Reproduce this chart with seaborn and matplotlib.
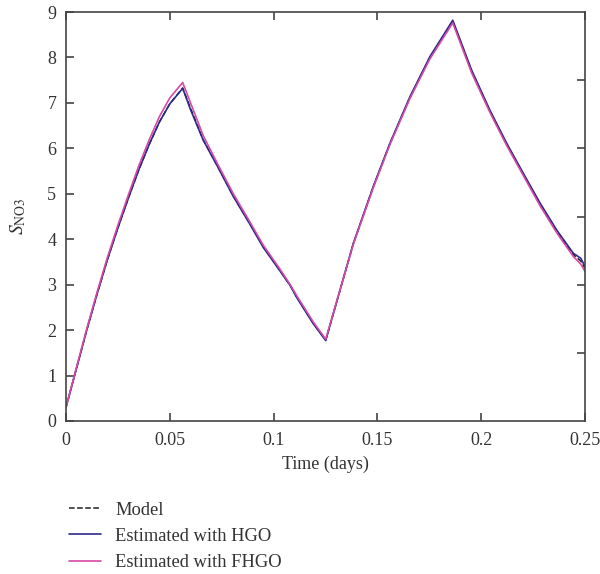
import matplotlib
matplotlib.use("Agg")
import matplotlib.pyplot as plt
import seaborn as sns
import pandas as pd

# values
t = [0.0, 0.0050, 0.0100, 0.0150, 0.0200, 0.0250, 0.0300, 0.0350, 0.0400,
     0.0450, 0.0500, 0.0562,
     0.0600, 0.0661, 0.0730, 0.0806, 0.0886, 0.0950, 0.1031, 0.1080, 0.1111,
     0.1191, 0.1251, 0.1384, 0.1480, 0.1560, 0.1657, 0.1753, 0.1863, 0.1954,
     0.2042, 0.2123, 0.2203, 0.2283, 0.2364, 0.2444, 0.2480, 0.2500]
s_model = [0.30, 1.15, 2.00, 2.80, 3.56, 4.25, 4.90, 5.52, 6.08,
           6.58, 6.98, 7.33,
           6.88, 6.19, 5.61, 4.95, 4.34, 3.84, 3.31, 2.98, 2.73,
           2.15, 1.78, 3.90, 5.15, 6.10, 7.12, 8.00, 8.80, 7.70,
           6.82, 6.09, 5.43, 4.78, 4.18, 3.66, 3.52, 3.36]
s_hgo = [0.30, 1.15, 2.00, 2.80, 3.56, 4.25, 4.90, 5.52, 6.08,
         6.58, 6.98, 7.32,
         6.85, 6.18, 5.60, 4.94, 4.33, 3.82, 3.30, 2.98, 2.72,
         2.14, 1.77, 3.91, 5.16, 6.11, 7.14, 8.02, 8.82, 7.72,
         6.84, 6.11, 5.45, 4.80, 4.20, 3.69, 3.58, 3.40]
s_fhgo = [0.30, 1.17, 2.03, 2.84, 3.61, 4.31, 4.97, 5.61, 6.18,
          6.70, 7.11, 7.45,
          7.00, 6.28, 5.66, 5.00, 4.38, 3.87, 3.34, 3.00, 2.76,
          2.18, 1.80, 3.89, 5.13, 6.08, 7.10, 7.97, 8.76, 7.66,
          6.79, 6.06, 5.40, 4.74, 4.14, 3.62, 3.45, 3.29]

x_ticks = [0, 0.05, 0.1, 0.15, 0.2, 0.25]
x_labels = ["0", "0.05", "0.1", "0.15", "0.2", "0.25"]
y_ticks = list(range(10))
right_ticks = [1.5, 3, 4.5, 6, 7.5]

sns.set_style("white")
plt.rcParams['font.family'] = ['Liberation Serif', 'DejaVu Serif']
plt.rcParams['mathtext.fontset'] = 'stix'

fig = plt.figure(figsize=(6, 5.74), dpi=100)
ax = fig.add_axes([0.11, 0.2666, 0.865, 0.7124])

df = pd.DataFrame({'t': t, 'Model': s_model, 'HGO': s_hgo, 'FHGO': s_fhgo})

sns.lineplot(data=df, x='t', y='Model', ax=ax, color='#222222', lw=1.1,
             linestyle='--', label='Model')
sns.lineplot(data=df, x='t', y='HGO', ax=ax, color='#2e2a8a', lw=1.2,
             label='Estimated with HGO')
sns.lineplot(data=df, x='t', y='FHGO', ax=ax, color='#d64aa6', lw=1.2,
             label='Estimated with FHGO')

ax.set_xlim(0, 0.25)
ax.set_ylim(0, 9)
ax.set_xticks(x_ticks)
ax.set_xticklabels(x_labels)
ax.set_yticks(y_ticks)
ax.set_xlabel('Time (days)', fontsize=13, color='#333333', labelpad=5)
ax.set_ylabel(r'$S_{\mathrm{NO3}}$', fontsize=14, color='#333333', labelpad=14)

ax.tick_params(direction='in', length=6, width=1.2, colors='#444444',
               labelsize=13, labelcolor='#333333', top=True, bottom=True,
               left=True, right=False)
ax.tick_params(axis='x', pad=8)
ax.tick_params(axis='y', pad=7)
for sp in ax.spines.values():
    sp.set_color('#444444')
    sp.set_linewidth(1.2)

# right-side ticks sit at their own positions in the reference
ax2 = ax.twinx()
ax2.set_ylim(0, 9)
ax2.set_yticks(right_ticks)
ax2.set_yticklabels([])
ax2.tick_params(direction='in', length=6, width=1.2, colors='#444444',
                right=True, left=False)
for sp in ax2.spines.values():
    sp.set_visible(False)

handles, labels = ax.get_legend_handles_labels()
ax.legend_.remove()
fig.legend(handles, labels, loc='upper left', bbox_to_anchor=(0.115, 0.126),
           frameon=False, fontsize=13.3, handlelength=1.75, handletextpad=0.75,
           labelspacing=0.5, borderaxespad=0, borderpad=0,
           labelcolor='#333333')

fig.savefig('out.png', dpi=100)
